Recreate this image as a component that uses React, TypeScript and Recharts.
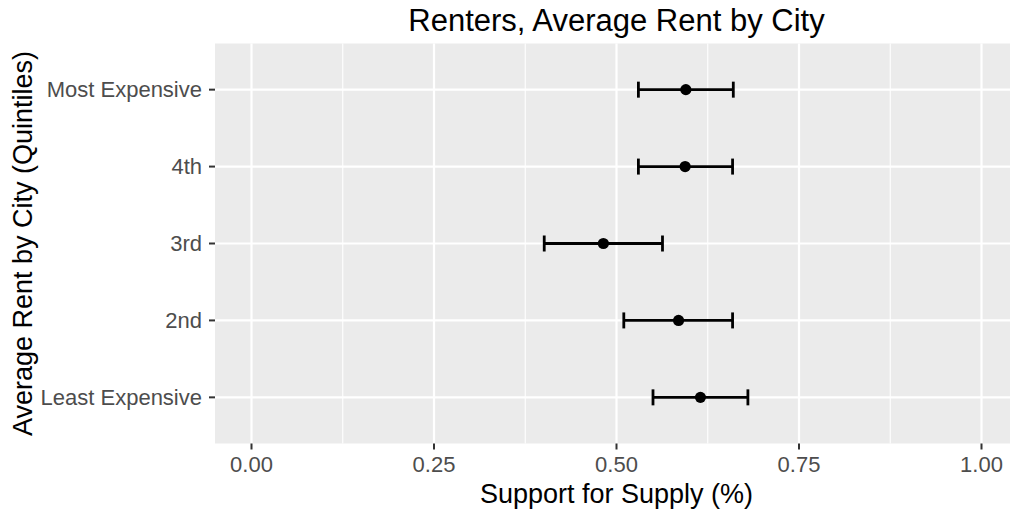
import React from 'react';
import { ScatterChart, Scatter, XAxis, YAxis, CartesianGrid, ErrorBar, Label } from 'recharts';

const quintiles = ['Least Expensive', '2nd', '3rd', '4th', 'Most Expensive'];
const support = [0.615, 0.585, 0.482, 0.594, 0.595];
const lower = [0.55, 0.51, 0.401, 0.53, 0.53];
const upper = [0.68, 0.659, 0.563, 0.659, 0.66];
const majorBreaks = [0, 0.25, 0.5, 0.75, 1];
const minorBreaks = [0.125, 0.375, 0.625, 0.875];
const rowTicks = quintiles.map((_, i) => i + 1);

const rows = quintiles.map((q, i) => ({
  pos: i + 1,
  quintile: q,
  est: support[i],
  err: [support[i] - lower[i], upper[i] - support[i]],
}));

const FONT = '"Liberation Sans", Arial, Helvetica, sans-serif';

const dot = (p: any) => <circle cx={p.cx} cy={p.cy} r={5.6} fill="#000" />;

export default function App() {
  return (
    <div style={{ width: 1010, height: 514, overflow: 'hidden', position: 'relative', fontFamily: FONT }}>
      <style>{'body{margin:0}'}</style>
      <div
        style={{
          position: 'absolute', left: 215, width: 803, top: 5, textAlign: 'center',
          fontSize: 31, lineHeight: '31px', color: '#000', whiteSpace: 'nowrap',
        }}
      >
        Renters, Average Rent by City
      </div>
      <ScatterChart width={1018} height={514} margin={{ top: 43.5, right: 0, bottom: 0, left: 0 }}>
        {/* minor grid first, major on top like ggplot */}
        <CartesianGrid horizontal={false} verticalValues={minorBreaks} stroke="#fff" strokeWidth={1.1} fill="#EBEBEB" />
        <CartesianGrid verticalValues={majorBreaks} horizontalValues={rowTicks} stroke="#fff" strokeWidth={2.2} />
        <XAxis
          type="number"
          dataKey="est"
          domain={[-0.05, 1.05]}
          ticks={majorBreaks}
          tickFormatter={(v: number) => v.toFixed(2)}
          height={70.5}
          axisLine={false}
          tickSize={6}
          tickMargin={7}
          tickLine={{ stroke: '#333', strokeWidth: 2 }}
          tick={{ fill: '#4D4D4D', fontSize: 22, fontFamily: FONT }}
        >
          <Label
            content={(props: any) => {
              const vb = props.viewBox;
              return (
                <text x={vb.x + vb.width / 2} y={vb.y + 59.5} textAnchor="middle" fontSize={27} fontFamily={FONT} fill="#000">
                  Support for Supply (%)
                </text>
              );
            }}
          />
        </XAxis>
        <YAxis
          type="number"
          dataKey="pos"
          domain={[0.4, 5.6]}
          ticks={rowTicks}
          tickFormatter={(v: number) => quintiles[v - 1]}
          width={215}
          axisLine={false}
          tickSize={6}
          tickMargin={7}
          tickLine={{ stroke: '#333', strokeWidth: 2 }}
          tick={{ fill: '#4D4D4D', fontSize: 22, fontFamily: FONT }}
        >
          <Label
            content={(props: any) => {
              const vb = props.viewBox;
              const cx = 32;
              const cy = vb.y + vb.height / 2;
              return (
                <text x={cx} y={cy} transform={`rotate(-90 ${cx} ${cy})`} textAnchor="middle" fontSize={27} fontFamily={FONT} fill="#000">
                  Average Rent by City (Quintiles)
                </text>
              );
            }}
          />
        </YAxis>
        <Scatter data={rows} shape={dot} isAnimationActive={false}>
          <ErrorBar dataKey="err" direction="x" width={8} stroke="#000" strokeWidth={2.8} isAnimationActive={false} />
        </Scatter>
      </ScatterChart>
    </div>
  );
}
